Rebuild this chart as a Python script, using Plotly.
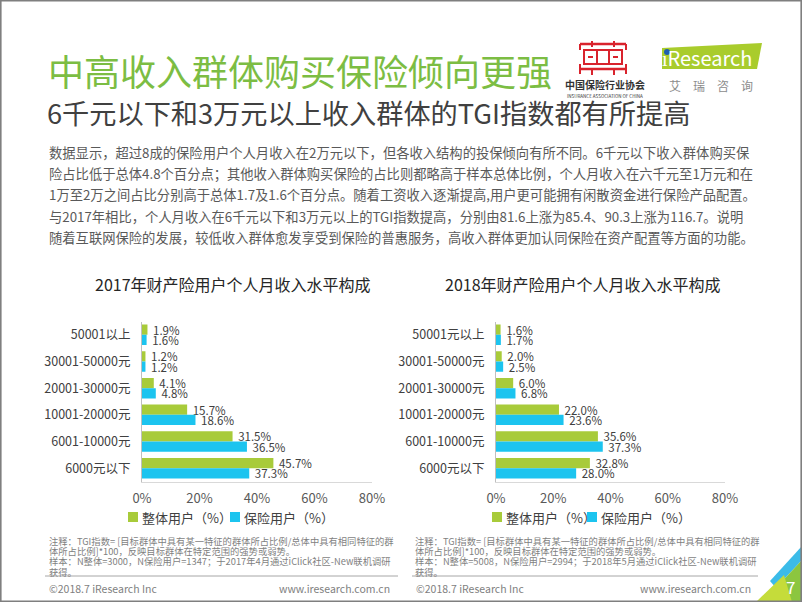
import plotly.graph_objects as go

# ---------------- data ----------------
categories_2017 = ["50001以上", "30001-50000元", "20001-30000元", "10001-20000元", "6001-10000元", "6000元以下"]
categories_2018 = ["50001元以上", "30001-50000元", "20001-30000元", "10001-20000元", "6001-10000元", "6000元以下"]
overall_2017 = [1.9, 1.2, 4.1, 15.7, 31.5, 45.7]
insured_2017 = [1.6, 1.2, 4.8, 18.6, 36.5, 37.3]
overall_2018 = [1.6, 2.0, 6.0, 22.0, 35.6, 32.8]
insured_2018 = [1.7, 2.5, 6.8, 23.6, 37.3, 28.0]
x_tick_values = [0, 20, 40, 60, 80]
x_tick_labels = ["0%", "20%", "40%", "60%", "80%"]
series_names = ["整体用户（%）", "保险用户（%）"]
chart_titles = ["2017年财产险用户个人月收入水平构成", "2018年财产险用户个人月收入水平构成"]

title_text = "中高收入群体购买保险倾向更强"
subtitle_text = "6千元以下和3万元以上收入群体的TGI指数都有所提高"
paragraph_lines = [
    "数据显示，超过8成的保险用户个人月收入在2万元以下，但各收入结构的投保倾向有所不同。6千元以下收入群体购买保",
    "险占比低于总体4.8个百分点；其他收入群体购买保险的占比则都略高于样本总体比例，个人月收入在六千元至1万元和在",
    "1万至2万之间占比分别高于总体1.7及1.6个百分点。随着工资收入逐渐提高,用户更可能拥有闲散资金进行保险产品配置。",
    "与2017年相比，个人月收入在6千元以下和3万元以上的TGI指数提高，分别由81.6上涨为85.4、90.3上涨为116.7。说明",
    "随着互联网保险的发展，较低收入群体愈发享受到保险的普惠服务，高收入群体更加认同保险在资产配置等方面的功能。",
]
notes_2017 = [
    "注释：TGI指数= [目标群体中具有某一特征的群体所占比例/总体中具有相同特征的群",
    "体所占比例]*100，反映目标群体在特定范围的强势或弱势。",
    "样本：N整体=3000，N保险用户=1347；于2017年4月通过iClick社区-New联机调研",
    "获得。",
]
notes_2018 = [
    "注释：TGI指数= [目标群体中具有某一特征的群体所占比例/总体中具有相同特征的群",
    "体所占比例]*100，反映目标群体在特定范围的强势或弱势。",
    "样本：N整体=5008，N保险用户=2994；于2018年5月通过iClick社区-New联机调研",
    "获得。",
]

# ---------------- style ----------------
W, H = 802, 602
FONT = "Noto Sans CJK SC"
GREEN = "#a8cb3a"
BLUE = "#1cc4ef"
TITLE_GREEN = "#7cbd43"
DARK = "#404040"
GRAY = "#595959"


def px(x):
    return x / W


def py(y):
    return 1 - y / H


fig = go.Figure()

panels = [
    (categories_2017, overall_2017, insured_2017, "x", "y"),
    (categories_2018, overall_2018, insured_2018, "x2", "y2"),
]
for cats, ov, ins, xa, ya in panels:
    for name, vals, col in [(series_names[0], ov, GREEN), (series_names[1], ins, BLUE)]:
        fig.add_trace(go.Bar(
            y=cats, x=vals, orientation="h", name=name,
            marker=dict(color=col, line=dict(width=0)),
            texttemplate="\u00a0%{x:.1f}%", textposition="outside",
            textfont=dict(size=11.5, color=DARK, family=FONT),
            constraintext="none", cliponaxis=False,
            xaxis=xa, yaxis=ya, showlegend=False, hoverinfo="skip",
        ))

axis_x = dict(range=[0, 80], tickvals=x_tick_values, ticktext=x_tick_labels,
              showgrid=False, zeroline=False, showline=True, linecolor="#d9d9d9",
              linewidth=1, ticks="", tickfont=dict(size=13, color=GRAY, family=FONT),
              ticklabelstandoff=5, fixedrange=True, automargin=False)
axis_y = dict(type="category", autorange="reversed", showgrid=False, zeroline=False,
              showline=True, linecolor="#bfbfbf", linewidth=1, ticks="",
              tickfont=dict(size=12.5, color=DARK, family=FONT), ticklabelstandoff=8,
              fixedrange=True, automargin=False)

ydom = [py(481.5), py(321.5)]
fig.update_layout(
    width=W, height=H, margin=dict(l=0, r=0, t=0, b=0, autoexpand=False),
    paper_bgcolor="white", plot_bgcolor="white",
    barmode="group", bargap=0.23, bargroupgap=0,
    font=dict(family=FONT, color=DARK),
    xaxis=dict(axis_x, domain=[px(142), px(372)], anchor="y"),
    yaxis=dict(axis_y, domain=ydom, anchor="x"),
    xaxis2=dict(axis_x, domain=[px(496), px(725)], anchor="y2"),
    yaxis2=dict(axis_y, domain=ydom, anchor="x2"),
    showlegend=False,
)

ann = []


def text(x, y, s, size, color, xanchor="left", yanchor="middle", family=FONT, pad=1):
    ann.append(dict(x=px(x), y=py(y), xref="paper", yref="paper", text=s, showarrow=False,
                    xanchor=xanchor, yanchor=yanchor, borderpad=pad,
                    font=dict(size=size, color=color, family=family)))


shapes = []


def line(x0, y0, x1, y1, color, width=1):
    shapes.append(dict(type="line", xref="paper", yref="paper", x0=px(x0), y0=py(y0),
                       x1=px(x1), y1=py(y1), line=dict(color=color, width=width)))


def rect(x0, y0, x1, y1, fill, outline=None, width=0):
    shapes.append(dict(type="rect", xref="paper", yref="paper", x0=px(x0), y0=py(y1),
                       x1=px(x1), y1=py(y0), fillcolor=fill,
                       line=dict(color=outline or fill, width=width)))


def poly(points, color):
    d = "M " + " L ".join(f"{px(a):.5f},{py(b):.5f}" for a, b in points) + " Z"
    shapes.append(dict(type="path", xref="paper", yref="paper", path=d,
                       fillcolor=color, line=dict(width=0), layer="below"))


# headings
text(46, 70, title_text, 36, TITLE_GREEN)
text(45, 112, subtitle_text, 27.2, DARK)
for i, line_txt in enumerate(paragraph_lines):
    text(47, 152 + i * 21.4, line_txt, 13.3, GRAY)

# chart titles
text(233, 284, chart_titles[0], 16, "#262626", xanchor="center")
text(583, 284, chart_titles[1], 16, "#262626", xanchor="center")

# legends (legend keys for the two series of each chart)
for (gx, bx) in [(128, 230), (492, 587)]:
    rect(gx, 512, gx + 10, 522, GREEN)
    text(gx + 12, 517, series_names[0], 13, DARK)
    rect(bx, 512, bx + 10, 522, BLUE)
    text(bx + 12, 517, series_names[1], 13, DARK)

# notes
for i, l in enumerate(notes_2017):
    text(48, 541 + i * 10.2, l, 9.3, "#7f7f7f", pad=0)
for i, l in enumerate(notes_2018):
    text(414, 541 + i * 10.2, l, 9.3, "#7f7f7f", pad=0)

# footers
text(47, 588, "©2018.7 iResearch Inc", 10.5, "#7f7f7f")
text(392, 588, "www.iresearch.com.cn", 10.5, "#7f7f7f", xanchor="right")
text(414, 588, "©2018.7 iResearch Inc", 10.5, "#7f7f7f")
text(753, 588, "www.iresearch.com.cn", 10.5, "#7f7f7f", xanchor="right")

# logos text
text(707, 57, "ıResearch", 20, "white", xanchor="center")
text(711, 86, "艾　瑞　咨　询", 12, "#8c8c8c", xanchor="center")
text(605, 84, "<b>中国保险行业协会</b>", 10, "#333333", xanchor="center", pad=0)
text(605, 96.5, "INSURANCE ASSOCIATION OF CHINA", 4.5, "#333333", xanchor="center", pad=0)

# page number
text(790, 586, "7", 17, "white", xanchor="center")

fig.update_layout(annotations=ann)

# slide border
shapes.append(dict(type="rect", xref="paper", yref="paper", x0=px(0.8), y0=py(601.2),
                   x1=px(801.2), y1=py(0.8), line=dict(color="#7f7f7f", width=1.6)))

# footer dividers
line(45, 576, 398, 576, "#a6a6a6", 1)
line(412, 576, 758, 576, "#a6a6a6", 1)

# iResearch logo block
poly([(662, 48), (762, 43), (757, 69), (662, 69)], "#a9cc2c")
shapes.append(dict(type="circle", xref="paper", yref="paper", x0=px(664), x1=px(670),
                   y0=py(55), y1=py(49), fillcolor="#1f5fae", line=dict(width=0)))

# insurance association logo (simplified red glyph)
RED = "#d9232d"
line(580, 44, 626, 44, RED, 2.5)
line(580, 44, 580, 50, RED, 2)
line(626, 44, 626, 50, RED, 2)
line(592, 41, 592, 47, RED, 2)
line(614, 41, 614, 47, RED, 2)
rect(584, 50, 622, 64, "rgba(0,0,0,0)", RED, 2)
line(597, 50, 597, 64, RED, 2)
line(609, 50, 609, 64, RED, 2)
line(588, 57, 593, 57, RED, 2)
line(613, 57, 618, 57, RED, 2)
line(580, 69, 626, 69, RED, 2.5)
line(580, 64, 580, 74, RED, 2)
line(626, 64, 626, 74, RED, 2)
line(592, 69, 592, 75, RED, 2)
line(614, 69, 614, 75, RED, 2)

# corner decoration
poly([(770, 581), (802, 546), (802, 560), (776, 588)], "#3bbbe8")
poly([(776, 588), (802, 560), (802, 602), (762, 602)], "#8cc63f")
poly([(756, 602), (784, 575), (792, 602)], "#c5dc3a")

fig.update_layout(shapes=shapes)

fig.write_html("out.html", config={"displayModeBar": False},
               post_script="document.body.style.margin='0';document.body.style.overflow='hidden';")
